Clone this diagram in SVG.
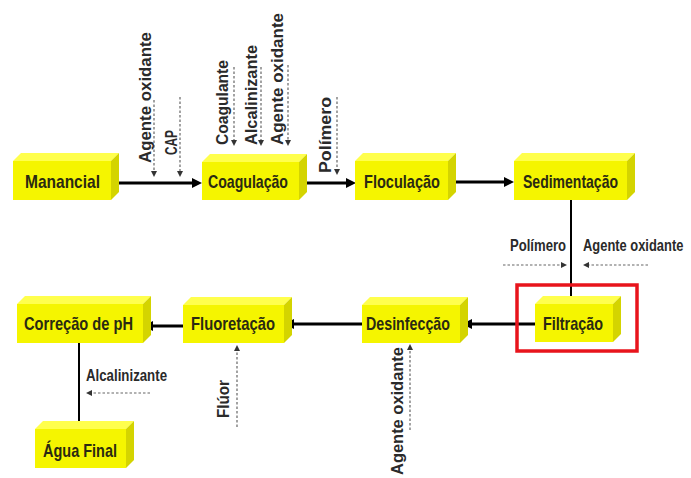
<svg xmlns="http://www.w3.org/2000/svg" xmlns:xlink="http://www.w3.org/1999/xlink" width="691" height="478" viewBox="0 0 691 478">
<style>
.front{fill:#F5F500}
.top{fill:#FFFF4D}
.side{fill:#D4D400}
.nl{font-family:"Liberation Sans",Arial,sans-serif;font-weight:bold;font-size:19px;fill:#2a2a12}
.al{font-family:"Liberation Sans",Arial,sans-serif;font-weight:bold;font-size:17px;fill:#2a2a2a}
.flow{stroke:#000;stroke-width:3;fill:none}
.flow2{stroke:#000;stroke-width:2;fill:none}
.dash{stroke:#666;stroke-width:1.2;stroke-dasharray:2.5 2;fill:none}
.hd{fill:#000}
.hd2{fill:#333}
</style>
<defs>
<path id="ahp" d="M0,0 L-10,-5 L-10,5 Z"/>
<path id="adp" d="M0,0 L-6,-3 L-6,3 Z"/>
</defs>
<rect width="691" height="478" fill="#fff"/>

<g id="connectors">
<line class="flow" x1="112" y1="183" x2="195" y2="183"/>
<use href="#ahp" xlink:href="#ahp" class="hd" transform="translate(202,183)"/>
<line class="flow" x1="300" y1="183" x2="349" y2="183"/>
<use href="#ahp" xlink:href="#ahp" class="hd" transform="translate(356,183)"/>
<line class="flow" x1="450" y1="182" x2="507" y2="182"/>
<use href="#ahp" xlink:href="#ahp" class="hd" transform="translate(514,182)"/>
<line class="flow2" x1="571" y1="200" x2="571" y2="301"/>
<use href="#ahp" xlink:href="#ahp" class="hd" transform="translate(571,308) rotate(90)"/>
<line class="flow" x1="535" y1="324" x2="469" y2="324"/>
<use href="#ahp" xlink:href="#ahp" class="hd" transform="translate(462,324) rotate(180)"/>
<line class="flow" x1="362" y1="324" x2="291" y2="324"/>
<use href="#ahp" xlink:href="#ahp" class="hd" transform="translate(284,324) rotate(180)"/>
<line class="flow" x1="183" y1="326" x2="150" y2="326"/>
<use href="#ahp" xlink:href="#ahp" class="hd" transform="translate(143,326) rotate(180)"/>
<line class="flow2" x1="79" y1="343" x2="79" y2="424"/>
<use href="#ahp" xlink:href="#ahp" class="hd" transform="translate(79,431) rotate(90)"/>

<line class="dash" x1="154" y1="100" x2="154" y2="172"/>
<use href="#adp" xlink:href="#adp" class="hd2" transform="translate(154,177) rotate(90)"/>
<line class="dash" x1="180" y1="97" x2="180" y2="172"/>
<use href="#adp" xlink:href="#adp" class="hd2" transform="translate(180,177) rotate(90)"/>
<line class="dash" x1="234" y1="67" x2="234" y2="141"/>
<use href="#adp" xlink:href="#adp" class="hd2" transform="translate(234,146) rotate(90)"/>
<line class="dash" x1="261" y1="67" x2="261" y2="141"/>
<use href="#adp" xlink:href="#adp" class="hd2" transform="translate(261,146) rotate(90)"/>
<line class="dash" x1="288" y1="65" x2="288" y2="141"/>
<use href="#adp" xlink:href="#adp" class="hd2" transform="translate(288,146) rotate(90)"/>
<line class="dash" x1="337" y1="97" x2="337" y2="170"/>
<use href="#adp" xlink:href="#adp" class="hd2" transform="translate(337,175) rotate(90)"/>
<line class="dash" x1="503" y1="265" x2="562" y2="265"/>
<use href="#adp" xlink:href="#adp" class="hd2" transform="translate(567,265)"/>
<line class="dash" x1="648" y1="265" x2="588" y2="265"/>
<use href="#adp" xlink:href="#adp" class="hd2" transform="translate(583,265) rotate(180)"/>
<line class="dash" x1="150" y1="393" x2="91" y2="393"/>
<use href="#adp" xlink:href="#adp" class="hd2" transform="translate(86,393) rotate(180)"/>
<line class="dash" x1="237" y1="427" x2="237" y2="350"/>
<use href="#adp" xlink:href="#adp" class="hd2" transform="translate(237,345) rotate(-90)"/>
<line class="dash" x1="410" y1="430" x2="410" y2="349"/>
<use href="#adp" xlink:href="#adp" class="hd2" transform="translate(410,344) rotate(-90)"/>
</g>

<g id="labels">
<text class="al" transform="translate(151,163) rotate(-90)" textLength="131" lengthAdjust="spacingAndGlyphs">Agente oxidante</text>
<text class="al" transform="translate(177,155) rotate(-90)" textLength="25" lengthAdjust="spacingAndGlyphs">CAP</text>
<text class="al" transform="translate(228,145) rotate(-90)" textLength="85" lengthAdjust="spacingAndGlyphs">Coagulante</text>
<text class="al" transform="translate(257,145) rotate(-90)" textLength="100" lengthAdjust="spacingAndGlyphs">Alcalinizante</text>
<text class="al" transform="translate(283,145) rotate(-90)" textLength="132" lengthAdjust="spacingAndGlyphs">Agente oxidante</text>
<text class="al" transform="translate(331,173) rotate(-90)" textLength="76" lengthAdjust="spacingAndGlyphs">Polímero</text>
<text class="al" x="510" y="251" textLength="56" lengthAdjust="spacingAndGlyphs">Polímero</text>
<text class="al" transform="translate(583,251) scale(0.76,1)">Agente oxidante</text>
<text class="al" x="86" y="381" textLength="81" lengthAdjust="spacingAndGlyphs">Alcalinizante</text>
<text class="al" transform="translate(229,418) rotate(-90)" textLength="38" lengthAdjust="spacingAndGlyphs">Flúor</text>
<text class="al" transform="translate(403,475) rotate(-90)" textLength="128" lengthAdjust="spacingAndGlyphs">Agente oxidante</text>
</g>

<rect id="highlight" x="517" y="285" width="120" height="66" fill="none" stroke="#E8141C" stroke-width="3.5"/>

<g id="manancial">
<polygon class="top" points="13,161 21,153 119,153 111,161"/>
<polygon class="side" points="111,161 119,153 119,192 111,200"/>
<rect class="front" x="13" y="161" width="98" height="39"/>
<text class="nl" x="25" y="188" textLength="75" lengthAdjust="spacingAndGlyphs">Manancial</text>
</g>
<g id="coagulacao">
<polygon class="top" points="202,162 210,154 307,154 299,162"/>
<polygon class="side" points="299,162 307,154 307,192 299,200"/>
<rect class="front" x="202" y="162" width="97" height="38"/>
<text class="nl" x="208" y="188" textLength="80" lengthAdjust="spacingAndGlyphs">Coagulação</text>
</g>
<g id="floculacao">
<polygon class="top" points="355,161 363,153 456,153 448,161"/>
<polygon class="side" points="448,161 456,153 456,192 448,200"/>
<rect class="front" x="355" y="161" width="93" height="39"/>
<text class="nl" x="364" y="188" textLength="76" lengthAdjust="spacingAndGlyphs">Floculação</text>
</g>
<g id="sedimentacao">
<polygon class="top" points="514,161 522,153 635,153 627,161"/>
<polygon class="side" points="627,161 635,153 635,192 627,200"/>
<rect class="front" x="514" y="161" width="113" height="39"/>
<text class="nl" x="523" y="188" textLength="95" lengthAdjust="spacingAndGlyphs">Sedimentação</text>
</g>
<g id="filtracao">
<polygon class="top" points="535,304 543,296 621,296 613,304"/>
<polygon class="side" points="613,304 621,296 621,334 613,342"/>
<rect class="front" x="535" y="304" width="78" height="38"/>
<text class="nl" x="543" y="330" textLength="60" lengthAdjust="spacingAndGlyphs">Filtração</text>
</g>
<g id="desinfeccao">
<polygon class="top" points="362,305 370,297 468,297 460,305"/>
<polygon class="side" points="460,305 468,297 468,335 460,343"/>
<rect class="front" x="362" y="305" width="98" height="38"/>
<text class="nl" x="366" y="330" textLength="84" lengthAdjust="spacingAndGlyphs">Desinfecção</text>
</g>
<g id="fluoretacao">
<polygon class="top" points="183,305 191,297 292,297 284,305"/>
<polygon class="side" points="284,305 292,297 292,335 284,343"/>
<rect class="front" x="183" y="305" width="101" height="38"/>
<text class="nl" x="191" y="330" textLength="84" lengthAdjust="spacingAndGlyphs">Fluoretação</text>
</g>
<g id="correcao-ph">
<polygon class="top" points="17,304 25,296 151,296 143,304"/>
<polygon class="side" points="143,304 151,296 151,335 143,343"/>
<rect class="front" x="17" y="304" width="126" height="39"/>
<text class="nl" x="24" y="330" textLength="109" lengthAdjust="spacingAndGlyphs">Correção de pH</text>
</g>
<g id="agua-final">
<polygon class="top" points="35,429 43,421 134,421 126,429"/>
<polygon class="side" points="126,429 134,421 134,460 126,468"/>
<rect class="front" x="35" y="429" width="91" height="39"/>
<text class="nl" x="43" y="457" textLength="74" lengthAdjust="spacingAndGlyphs">Água Final</text>
</g>
</svg>
